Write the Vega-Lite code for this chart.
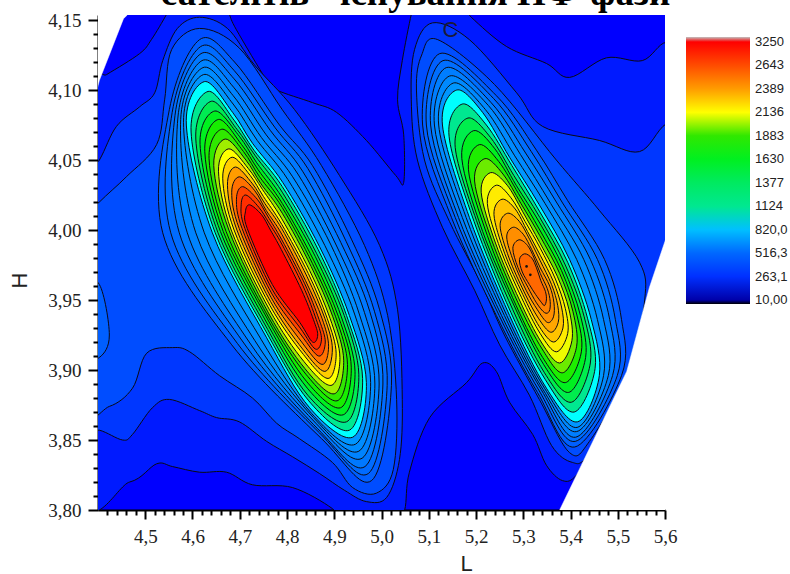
{"$schema":"https://vega.github.io/schema/vega-lite/v6.json","width":567,"height":495,"autosize":"none","padding":{"left":98,"top":15,"right":125,"bottom":64},
"background":"white","view":{"fill":"#0000ff","stroke":null},
"title":{"text":"сателітів - існування ПФ-фази","font":"Liberation Serif","fontSize":37,"fontWeight":"bold","color":"black","anchor":"middle","dx":34,"offset":-2,"frame":"group"},
"config":{"axis":{"grid":false,"domainColor":"black","domainWidth":2,"tickColor":"black","tickWidth":2,"labelFont":"Liberation Serif","labelFontSize":19,"labelColor":"#222","titleFont":"Liberation Sans","titleFontSize":22,"titleFontWeight":"normal","titleColor":"#222","labelOverlap":false,"labelBound":false,"labelFlush":false,"zindex":1,"tickCount":100}},
"layer":[
{"data":{"values":[
{"g":1,"t":0.75,"L":4.361,"H":3.82},{"g":1,"t":0.75,"L":4.467,"H":3.82},{"g":1,"t":0.75,"L":4.524,"H":3.833},{"g":1,"t":0.75,"L":4.558,"H":3.831},{"g":1,"t":0.75,"L":4.615,"H":3.827},{"g":1,"t":0.75,"L":4.672,"H":3.827},{"g":1,"t":0.75,"L":4.727,"H":3.818},{"g":1,"t":0.75,"L":4.812,"H":3.816},{"g":1,"t":0.75,"L":4.896,"H":3.801},{"g":1,"t":0.75,"L":4.922,"H":3.789},{"g":1,"t":0.75,"L":5.027,"H":3.789},{"g":1,"t":0.75,"L":5.049,"H":3.8},{"g":1,"t":0.75,"L":5.059,"H":3.827},{"g":1,"t":0.75,"L":5.102,"H":3.866},{"g":1,"t":0.75,"L":5.18,"H":3.891},{"g":1,"t":0.75,"L":5.214,"H":3.905},{"g":1,"t":0.75,"L":5.243,"H":3.899},{"g":1,"t":0.75,"L":5.271,"H":3.877},{"g":1,"t":0.75,"L":5.32,"H":3.854},{"g":1,"t":0.75,"L":5.349,"H":3.832},{"g":1,"t":0.75,"L":5.383,"H":3.821},{"g":1,"t":0.75,"L":5.413,"H":3.825},{"g":1,"t":0.75,"L":5.461,"H":3.85},{"g":1,"t":0.75,"L":5.652,"H":3.993},{"g":1,"t":0.75,"L":5.652,"H":4.121},{"g":1,"t":0.75,"L":5.603,"H":4.134},{"g":1,"t":0.75,"L":5.552,"H":4.121},{"g":1,"t":0.75,"L":5.476,"H":4.123},{"g":1,"t":0.75,"L":5.398,"H":4.109},{"g":1,"t":0.75,"L":5.349,"H":4.119},{"g":1,"t":0.75,"L":5.265,"H":4.131},{"g":1,"t":0.75,"L":5.19,"H":4.152},{"g":1,"t":0.75,"L":5.169,"H":4.161},{"g":1,"t":0.75,"L":5.07,"H":4.161},{"g":1,"t":0.75,"L":5.063,"H":4.154},{"g":1,"t":0.75,"L":5.044,"H":4.121},{"g":1,"t":0.75,"L":5.034,"H":4.093},{"g":1,"t":0.75,"L":5.047,"H":4.068},{"g":1,"t":0.75,"L":5.047,"H":4.034},{"g":1,"t":0.75,"L":5.03,"H":4.039},{"g":1,"t":0.75,"L":4.968,"H":4.064},{"g":1,"t":0.75,"L":4.905,"H":4.084},{"g":1,"t":0.75,"L":4.854,"H":4.091},{"g":1,"t":0.75,"L":4.778,"H":4.1},{"g":1,"t":0.75,"L":4.757,"H":4.107},{"g":1,"t":0.75,"L":4.693,"H":4.143},{"g":1,"t":0.75,"L":4.678,"H":4.154},{"g":1,"t":0.75,"L":4.668,"H":4.162},{"g":1,"t":0.75,"L":4.556,"H":4.162},{"g":1,"t":0.75,"L":4.545,"H":4.154},{"g":1,"t":0.75,"L":4.513,"H":4.136},{"g":1,"t":0.75,"L":4.488,"H":4.126},{"g":1,"t":0.75,"L":4.418,"H":4.111},{"g":1,"t":0.75,"L":4.361,"H":4.1},
{"g":2,"t":1.1,"L":4.361,"H":3.857},{"g":2,"t":1.1,"L":4.403,"H":3.857},{"g":2,"t":1.1,"L":4.452,"H":3.85},{"g":2,"t":1.1,"L":4.473,"H":3.854},{"g":2,"t":1.1,"L":4.515,"H":3.873},{"g":2,"t":1.1,"L":4.551,"H":3.879},{"g":2,"t":1.1,"L":4.615,"H":3.871},{"g":2,"t":1.1,"L":4.651,"H":3.866},{"g":2,"t":1.1,"L":4.699,"H":3.863},{"g":2,"t":1.1,"L":4.757,"H":3.849},{"g":2,"t":1.1,"L":4.812,"H":3.838},{"g":2,"t":1.1,"L":4.869,"H":3.826},{"g":2,"t":1.1,"L":4.922,"H":3.814},{"g":2,"t":1.1,"L":4.968,"H":3.806},{"g":2,"t":1.1,"L":5.011,"H":3.809},{"g":2,"t":1.1,"L":5.038,"H":3.836},{"g":2,"t":1.1,"L":5.044,"H":3.879},{"g":2,"t":1.1,"L":5.034,"H":3.943},{"g":2,"t":1.1,"L":4.996,"H":3.989},{"g":2,"t":1.1,"L":4.911,"H":4.039},{"g":2,"t":1.1,"L":4.816,"H":4.086},{"g":2,"t":1.1,"L":4.731,"H":4.118},{"g":2,"t":1.1,"L":4.674,"H":4.144},{"g":2,"t":1.1,"L":4.615,"H":4.152},{"g":2,"t":1.1,"L":4.568,"H":4.144},{"g":2,"t":1.1,"L":4.537,"H":4.121},{"g":2,"t":1.1,"L":4.52,"H":4.098},{"g":2,"t":1.1,"L":4.488,"H":4.088},{"g":2,"t":1.1,"L":4.439,"H":4.074},{"g":2,"t":1.1,"L":4.403,"H":4.05},{"g":2,"t":1.1,"L":4.361,"H":4.029},
{"g":3,"t":1.45,"L":4.361,"H":3.874},{"g":3,"t":1.45,"L":4.424,"H":3.874},{"g":3,"t":1.45,"L":4.473,"H":3.887},{"g":3,"t":1.45,"L":4.503,"H":3.912},{"g":3,"t":1.45,"L":4.558,"H":3.916},{"g":3,"t":1.45,"L":4.594,"H":3.913},{"g":3,"t":1.45,"L":4.657,"H":3.896},{"g":3,"t":1.45,"L":4.727,"H":3.88},{"g":3,"t":1.45,"L":4.778,"H":3.862},{"g":3,"t":1.45,"L":4.826,"H":3.851},{"g":3,"t":1.45,"L":4.896,"H":3.834},{"g":3,"t":1.45,"L":4.939,"H":3.816},{"g":3,"t":1.45,"L":4.989,"H":3.812},{"g":3,"t":1.45,"L":5.025,"H":3.829},{"g":3,"t":1.45,"L":5.032,"H":3.879},{"g":3,"t":1.45,"L":5.013,"H":3.939},{"g":3,"t":1.45,"L":4.964,"H":3.989},{"g":3,"t":1.45,"L":4.873,"H":4.046},{"g":3,"t":1.45,"L":4.79,"H":4.086},{"g":3,"t":1.45,"L":4.699,"H":4.13},{"g":3,"t":1.45,"L":4.615,"H":4.144},{"g":3,"t":1.45,"L":4.556,"H":4.129},{"g":3,"t":1.45,"L":4.541,"H":4.093},{"g":3,"t":1.45,"L":4.524,"H":4.061},{"g":3,"t":1.45,"L":4.46,"H":4.038},{"g":3,"t":1.45,"L":4.403,"H":4.02},{"g":3,"t":1.45,"L":4.361,"H":4.004},
{"g":4,"t":1.8,"L":4.361,"H":3.961},{"g":4,"t":1.8,"L":4.403,"H":3.961},{"g":4,"t":1.8,"L":4.424,"H":3.925},{"g":4,"t":1.8,"L":4.403,"H":3.909},{"g":4,"t":1.8,"L":4.361,"H":3.909},
{"g":5,"t":1.1,"L":5.108,"H":4.148},{"g":5,"t":1.1,"L":5.186,"H":4.136},{"g":5,"t":1.1,"L":5.286,"H":4.098},{"g":5,"t":1.1,"L":5.341,"H":4.074},{"g":5,"t":1.1,"L":5.461,"H":4.064},{"g":5,"t":1.1,"L":5.546,"H":4.056},{"g":5,"t":1.1,"L":5.603,"H":4.076},{"g":5,"t":1.1,"L":5.673,"H":4.082},{"g":5,"t":1.1,"L":5.673,"H":3.95},{"g":5,"t":1.1,"L":5.546,"H":3.879},{"g":5,"t":1.1,"L":5.44,"H":3.839},{"g":5,"t":1.1,"L":5.404,"H":3.834},{"g":5,"t":1.1,"L":5.36,"H":3.846},{"g":5,"t":1.1,"L":5.313,"H":3.882},{"g":5,"t":1.1,"L":5.25,"H":3.918},{"g":5,"t":1.1,"L":5.197,"H":3.957},{"g":5,"t":1.1,"L":5.129,"H":4.002},{"g":5,"t":1.1,"L":5.076,"H":4.05},{"g":5,"t":1.1,"L":5.063,"H":4.093},{"g":5,"t":1.1,"L":5.07,"H":4.129},
{"g":6,"t":1.45,"L":5.119,"H":4.136},{"g":6,"t":1.45,"L":5.239,"H":4.104},{"g":6,"t":1.45,"L":5.37,"H":4.05},{"g":6,"t":1.45,"L":5.461,"H":4.014},{"g":6,"t":1.45,"L":5.546,"H":3.977},{"g":6,"t":1.45,"L":5.557,"H":3.95},{"g":6,"t":1.45,"L":5.525,"H":3.9},{"g":6,"t":1.45,"L":5.44,"H":3.849},{"g":6,"t":1.45,"L":5.398,"H":3.841},{"g":6,"t":1.45,"L":5.334,"H":3.879},{"g":6,"t":1.45,"L":5.26,"H":3.925},{"g":6,"t":1.45,"L":5.212,"H":3.961},{"g":6,"t":1.45,"L":5.144,"H":4.006},{"g":6,"t":1.45,"L":5.091,"H":4.05},{"g":6,"t":1.45,"L":5.074,"H":4.1},{"g":6,"t":1.45,"L":5.085,"H":4.125},
{"g":10,"t":1.8,"L":4.615,"H":4.136},{"g":10,"t":1.8,"L":4.689,"H":4.12},{"g":10,"t":1.8,"L":4.784,"H":4.075},{"g":10,"t":1.8,"L":4.854,"H":4.046},{"g":10,"t":1.8,"L":4.937,"H":3.993},{"g":10,"t":1.8,"L":4.996,"H":3.943},{"g":10,"t":1.8,"L":5.021,"H":3.889},{"g":10,"t":1.8,"L":4.979,"H":3.821},{"g":10,"t":1.8,"L":4.873,"H":3.851},{"g":10,"t":1.8,"L":4.683,"H":3.918},{"g":10,"t":1.8,"L":4.537,"H":3.998},{"g":10,"t":1.8,"L":4.551,"H":4.086},
{"g":11,"t":2.05,"L":4.617,"H":4.131},{"g":11,"t":2.05,"L":4.688,"H":4.114},{"g":11,"t":2.05,"L":4.775,"H":4.073},{"g":11,"t":2.05,"L":4.844,"H":4.044},{"g":11,"t":2.05,"L":4.925,"H":3.992},{"g":11,"t":2.05,"L":4.985,"H":3.942},{"g":11,"t":2.05,"L":5.012,"H":3.889},{"g":11,"t":2.05,"L":4.972,"H":3.826},{"g":11,"t":2.05,"L":4.869,"H":3.855},{"g":11,"t":2.05,"L":4.695,"H":3.919},{"g":11,"t":2.05,"L":4.554,"H":3.998},{"g":11,"t":2.05,"L":4.557,"H":4.084},
{"g":12,"t":2.3,"L":4.618,"H":4.126},{"g":12,"t":2.3,"L":4.688,"H":4.108},{"g":12,"t":2.3,"L":4.765,"H":4.071},{"g":12,"t":2.3,"L":4.833,"H":4.042},{"g":12,"t":2.3,"L":4.914,"H":3.991},{"g":12,"t":2.3,"L":4.975,"H":3.942},{"g":12,"t":2.3,"L":5.003,"H":3.89},{"g":12,"t":2.3,"L":4.965,"H":3.831},{"g":12,"t":2.3,"L":4.865,"H":3.858},{"g":12,"t":2.3,"L":4.707,"H":3.92},{"g":12,"t":2.3,"L":4.572,"H":3.998},{"g":12,"t":2.3,"L":4.563,"H":4.082},
{"g":13,"t":2.5,"L":4.62,"H":4.121},{"g":13,"t":2.5,"L":4.687,"H":4.102},{"g":13,"t":2.5,"L":4.756,"H":4.068},{"g":13,"t":2.5,"L":4.823,"H":4.04},{"g":13,"t":2.5,"L":4.903,"H":3.99},{"g":13,"t":2.5,"L":4.964,"H":3.941},{"g":13,"t":2.5,"L":4.995,"H":3.89},{"g":13,"t":2.5,"L":4.959,"H":3.837},{"g":13,"t":2.5,"L":4.861,"H":3.862},{"g":13,"t":2.5,"L":4.72,"H":3.92},{"g":13,"t":2.5,"L":4.589,"H":3.998},{"g":13,"t":2.5,"L":4.569,"H":4.08},
{"g":14,"t":2.7,"L":4.622,"H":4.116},{"g":14,"t":2.7,"L":4.686,"H":4.096},{"g":14,"t":2.7,"L":4.746,"H":4.066},{"g":14,"t":2.7,"L":4.812,"H":4.038},{"g":14,"t":2.7,"L":4.892,"H":3.99},{"g":14,"t":2.7,"L":4.953,"H":3.94},{"g":14,"t":2.7,"L":4.986,"H":3.89},{"g":14,"t":2.7,"L":4.952,"H":3.842},{"g":14,"t":2.7,"L":4.856,"H":3.866},{"g":14,"t":2.7,"L":4.732,"H":3.921},{"g":14,"t":2.7,"L":4.607,"H":3.998},{"g":14,"t":2.7,"L":4.575,"H":4.079},
{"g":15,"t":2.9,"L":4.623,"H":4.111},{"g":15,"t":2.9,"L":4.686,"H":4.09},{"g":15,"t":2.9,"L":4.737,"H":4.064},{"g":15,"t":2.9,"L":4.802,"H":4.036},{"g":15,"t":2.9,"L":4.88,"H":3.989},{"g":15,"t":2.9,"L":4.943,"H":3.94},{"g":15,"t":2.9,"L":4.977,"H":3.891},{"g":15,"t":2.9,"L":4.945,"H":3.847},{"g":15,"t":2.9,"L":4.852,"H":3.869},{"g":15,"t":2.9,"L":4.745,"H":3.922},{"g":15,"t":2.9,"L":4.625,"H":3.998},{"g":15,"t":2.9,"L":4.581,"H":4.077},
{"g":16,"t":3.1,"L":4.625,"H":4.106},{"g":16,"t":3.1,"L":4.685,"H":4.084},{"g":16,"t":3.1,"L":4.727,"H":4.062},{"g":16,"t":3.1,"L":4.791,"H":4.034},{"g":16,"t":3.1,"L":4.869,"H":3.988},{"g":16,"t":3.1,"L":4.932,"H":3.939},{"g":16,"t":3.1,"L":4.968,"H":3.891},{"g":16,"t":3.1,"L":4.939,"H":3.852},{"g":16,"t":3.1,"L":4.848,"H":3.873},{"g":16,"t":3.1,"L":4.757,"H":3.923},{"g":16,"t":3.1,"L":4.642,"H":3.998},{"g":16,"t":3.1,"L":4.587,"H":4.075},
{"g":21,"t":4,"L":4.633,"H":4.099},{"g":21,"t":4,"L":4.689,"H":4.078},{"g":21,"t":4,"L":4.73,"H":4.057},{"g":21,"t":4,"L":4.79,"H":4.031},{"g":21,"t":4,"L":4.866,"H":3.986},{"g":21,"t":4,"L":4.926,"H":3.939},{"g":21,"t":4,"L":4.96,"H":3.894},{"g":21,"t":4,"L":4.932,"H":3.857},{"g":21,"t":4,"L":4.846,"H":3.878},{"g":21,"t":4,"L":4.758,"H":3.926},{"g":21,"t":4,"L":4.648,"H":3.998},{"g":21,"t":4,"L":4.597,"H":4.07},
{"g":22,"t":5.3,"L":4.64,"H":4.092},{"g":22,"t":5.3,"L":4.694,"H":4.072},{"g":22,"t":5.3,"L":4.733,"H":4.053},{"g":22,"t":5.3,"L":4.79,"H":4.027},{"g":22,"t":5.3,"L":4.863,"H":3.983},{"g":22,"t":5.3,"L":4.921,"H":3.939},{"g":22,"t":5.3,"L":4.952,"H":3.897},{"g":22,"t":5.3,"L":4.926,"H":3.863},{"g":22,"t":5.3,"L":4.844,"H":3.882},{"g":22,"t":5.3,"L":4.759,"H":3.929},{"g":22,"t":5.3,"L":4.654,"H":3.998},{"g":22,"t":5.3,"L":4.607,"H":4.065},
{"g":23,"t":6,"L":4.647,"H":4.085},{"g":23,"t":6,"L":4.699,"H":4.067},{"g":23,"t":6,"L":4.736,"H":4.048},{"g":23,"t":6,"L":4.79,"H":4.023},{"g":23,"t":6,"L":4.86,"H":3.981},{"g":23,"t":6,"L":4.915,"H":3.938},{"g":23,"t":6,"L":4.944,"H":3.899},{"g":23,"t":6,"L":4.919,"H":3.868},{"g":23,"t":6,"L":4.843,"H":3.887},{"g":23,"t":6,"L":4.76,"H":3.932},{"g":23,"t":6,"L":4.659,"H":3.999},{"g":23,"t":6,"L":4.616,"H":4.061},
{"g":24,"t":6.5,"L":4.655,"H":4.079},{"g":24,"t":6.5,"L":4.704,"H":4.061},{"g":24,"t":6.5,"L":4.739,"H":4.043},{"g":24,"t":6.5,"L":4.79,"H":4.019},{"g":24,"t":6.5,"L":4.857,"H":3.978},{"g":24,"t":6.5,"L":4.909,"H":3.938},{"g":24,"t":6.5,"L":4.936,"H":3.902},{"g":24,"t":6.5,"L":4.913,"H":3.873},{"g":24,"t":6.5,"L":4.841,"H":3.892},{"g":24,"t":6.5,"L":4.761,"H":3.935},{"g":24,"t":6.5,"L":4.665,"H":3.999},{"g":24,"t":6.5,"L":4.626,"H":4.056},
{"g":25,"t":7,"L":4.662,"H":4.072},{"g":25,"t":7,"L":4.708,"H":4.056},{"g":25,"t":7,"L":4.742,"H":4.038},{"g":25,"t":7,"L":4.79,"H":4.016},{"g":25,"t":7,"L":4.854,"H":3.976},{"g":25,"t":7,"L":4.903,"H":3.938},{"g":25,"t":7,"L":4.928,"H":3.904},{"g":25,"t":7,"L":4.906,"H":3.878},{"g":25,"t":7,"L":4.84,"H":3.897},{"g":25,"t":7,"L":4.762,"H":3.937},{"g":25,"t":7,"L":4.671,"H":3.999},{"g":25,"t":7,"L":4.635,"H":4.051},
{"g":26,"t":7.5,"L":4.669,"H":4.065},{"g":26,"t":7.5,"L":4.713,"H":4.05},{"g":26,"t":7.5,"L":4.745,"H":4.033},{"g":26,"t":7.5,"L":4.79,"H":4.012},{"g":26,"t":7.5,"L":4.851,"H":3.974},{"g":26,"t":7.5,"L":4.897,"H":3.938},{"g":26,"t":7.5,"L":4.92,"H":3.907},{"g":26,"t":7.5,"L":4.9,"H":3.883},{"g":26,"t":7.5,"L":4.838,"H":3.901},{"g":26,"t":7.5,"L":4.762,"H":3.94},{"g":26,"t":7.5,"L":4.677,"H":4},{"g":26,"t":7.5,"L":4.645,"H":4.046},
{"g":27,"t":8,"L":4.677,"H":4.058},{"g":27,"t":8,"L":4.718,"H":4.044},{"g":27,"t":8,"L":4.748,"H":4.029},{"g":27,"t":8,"L":4.789,"H":4.008},{"g":27,"t":8,"L":4.848,"H":3.971},{"g":27,"t":8,"L":4.891,"H":3.937},{"g":27,"t":8,"L":4.912,"H":3.909},{"g":27,"t":8,"L":4.893,"H":3.889},{"g":27,"t":8,"L":4.836,"H":3.906},{"g":27,"t":8,"L":4.763,"H":3.943},{"g":27,"t":8,"L":4.682,"H":4},{"g":27,"t":8,"L":4.655,"H":4.042},
{"g":28,"t":8.5,"L":4.684,"H":4.052},{"g":28,"t":8.5,"L":4.722,"H":4.039},{"g":28,"t":8.5,"L":4.75,"H":4.024},{"g":28,"t":8.5,"L":4.789,"H":4.004},{"g":28,"t":8.5,"L":4.845,"H":3.969},{"g":28,"t":8.5,"L":4.885,"H":3.937},{"g":28,"t":8.5,"L":4.904,"H":3.912},{"g":28,"t":8.5,"L":4.887,"H":3.894},{"g":28,"t":8.5,"L":4.835,"H":3.911},{"g":28,"t":8.5,"L":4.764,"H":3.946},{"g":28,"t":8.5,"L":4.688,"H":4},{"g":28,"t":8.5,"L":4.664,"H":4.037},
{"g":29,"t":9,"L":4.691,"H":4.045},{"g":29,"t":9,"L":4.727,"H":4.033},{"g":29,"t":9,"L":4.753,"H":4.019},{"g":29,"t":9,"L":4.789,"H":4.001},{"g":29,"t":9,"L":4.842,"H":3.967},{"g":29,"t":9,"L":4.88,"H":3.937},{"g":29,"t":9,"L":4.896,"H":3.915},{"g":29,"t":9,"L":4.88,"H":3.899},{"g":29,"t":9,"L":4.833,"H":3.915},{"g":29,"t":9,"L":4.765,"H":3.949},{"g":29,"t":9,"L":4.694,"H":4},{"g":29,"t":9,"L":4.674,"H":4.032},
{"g":30,"t":9.6,"L":4.699,"H":4.038},{"g":30,"t":9.6,"L":4.732,"H":4.028},{"g":30,"t":9.6,"L":4.756,"H":4.014},{"g":30,"t":9.6,"L":4.789,"H":3.997},{"g":30,"t":9.6,"L":4.839,"H":3.964},{"g":30,"t":9.6,"L":4.874,"H":3.937},{"g":30,"t":9.6,"L":4.888,"H":3.917},{"g":30,"t":9.6,"L":4.874,"H":3.904},{"g":30,"t":9.6,"L":4.831,"H":3.92},{"g":30,"t":9.6,"L":4.766,"H":3.952},{"g":30,"t":9.6,"L":4.699,"H":4.001},{"g":30,"t":9.6,"L":4.683,"H":4.027},
{"g":31,"t":10.2,"L":4.706,"H":4.031},{"g":31,"t":10.2,"L":4.737,"H":4.022},{"g":31,"t":10.2,"L":4.759,"H":4.01},{"g":31,"t":10.2,"L":4.789,"H":3.993},{"g":31,"t":10.2,"L":4.837,"H":3.962},{"g":31,"t":10.2,"L":4.868,"H":3.936},{"g":31,"t":10.2,"L":4.881,"H":3.92},{"g":31,"t":10.2,"L":4.867,"H":3.91},{"g":31,"t":10.2,"L":4.83,"H":3.925},{"g":31,"t":10.2,"L":4.767,"H":3.955},{"g":31,"t":10.2,"L":4.705,"H":4.001},{"g":31,"t":10.2,"L":4.693,"H":4.022},
{"g":32,"t":10.6,"L":4.713,"H":4.025},{"g":32,"t":10.6,"L":4.741,"H":4.016},{"g":32,"t":10.6,"L":4.762,"H":4.005},{"g":32,"t":10.6,"L":4.789,"H":3.99},{"g":32,"t":10.6,"L":4.834,"H":3.96},{"g":32,"t":10.6,"L":4.862,"H":3.936},{"g":32,"t":10.6,"L":4.873,"H":3.922},{"g":32,"t":10.6,"L":4.86,"H":3.915},{"g":32,"t":10.6,"L":4.828,"H":3.93},{"g":32,"t":10.6,"L":4.768,"H":3.958},{"g":32,"t":10.6,"L":4.711,"H":4.001},{"g":32,"t":10.6,"L":4.703,"H":4.018},
{"g":33,"t":11,"L":4.721,"H":4.018},{"g":33,"t":11,"L":4.746,"H":4.011},{"g":33,"t":11,"L":4.765,"H":4},{"g":33,"t":11,"L":4.788,"H":3.986},{"g":33,"t":11,"L":4.831,"H":3.957},{"g":33,"t":11,"L":4.856,"H":3.936},{"g":33,"t":11,"L":4.865,"H":3.925},{"g":33,"t":11,"L":4.854,"H":3.92},{"g":33,"t":11,"L":4.827,"H":3.934},{"g":33,"t":11,"L":4.769,"H":3.961},{"g":33,"t":11,"L":4.716,"H":4.001},{"g":33,"t":11,"L":4.712,"H":4.013},
{"g":40,"t":1.8,"L":5.123,"H":4.126},{"g":40,"t":1.8,"L":5.243,"H":4.096},{"g":40,"t":1.8,"L":5.328,"H":4.057},{"g":40,"t":1.8,"L":5.394,"H":4.021},{"g":40,"t":1.8,"L":5.472,"H":3.979},{"g":40,"t":1.8,"L":5.508,"H":3.936},{"g":40,"t":1.8,"L":5.508,"H":3.896},{"g":40,"t":1.8,"L":5.409,"H":3.845},{"g":40,"t":1.8,"L":5.33,"H":3.884},{"g":40,"t":1.8,"L":5.243,"H":3.939},{"g":40,"t":1.8,"L":5.148,"H":4.009},{"g":40,"t":1.8,"L":5.087,"H":4.075},
{"g":41,"t":2.1,"L":5.13,"H":4.121},{"g":41,"t":2.1,"L":5.237,"H":4.094},{"g":41,"t":2.1,"L":5.317,"H":4.056},{"g":41,"t":2.1,"L":5.382,"H":4.02},{"g":41,"t":2.1,"L":5.457,"H":3.979},{"g":41,"t":2.1,"L":5.495,"H":3.936},{"g":41,"t":2.1,"L":5.499,"H":3.896},{"g":41,"t":2.1,"L":5.41,"H":3.849},{"g":41,"t":2.1,"L":5.334,"H":3.885},{"g":41,"t":2.1,"L":5.249,"H":3.939},{"g":41,"t":2.1,"L":5.156,"H":4.009},{"g":41,"t":2.1,"L":5.095,"H":4.075},
{"g":42,"t":2.4,"L":5.137,"H":4.116},{"g":42,"t":2.4,"L":5.232,"H":4.091},{"g":42,"t":2.4,"L":5.305,"H":4.055},{"g":42,"t":2.4,"L":5.37,"H":4.02},{"g":42,"t":2.4,"L":5.442,"H":3.979},{"g":42,"t":2.4,"L":5.483,"H":3.936},{"g":42,"t":2.4,"L":5.489,"H":3.896},{"g":42,"t":2.4,"L":5.411,"H":3.852},{"g":42,"t":2.4,"L":5.338,"H":3.886},{"g":42,"t":2.4,"L":5.254,"H":3.939},{"g":42,"t":2.4,"L":5.163,"H":4.009},{"g":42,"t":2.4,"L":5.104,"H":4.075},
{"g":43,"t":2.65,"L":5.144,"H":4.11},{"g":43,"t":2.65,"L":5.226,"H":4.089},{"g":43,"t":2.65,"L":5.294,"H":4.054},{"g":43,"t":2.65,"L":5.358,"H":4.019},{"g":43,"t":2.65,"L":5.428,"H":3.979},{"g":43,"t":2.65,"L":5.47,"H":3.936},{"g":43,"t":2.65,"L":5.48,"H":3.896},{"g":43,"t":2.65,"L":5.413,"H":3.856},{"g":43,"t":2.65,"L":5.342,"H":3.886},{"g":43,"t":2.65,"L":5.26,"H":3.939},{"g":43,"t":2.65,"L":5.171,"H":4.009},{"g":43,"t":2.65,"L":5.112,"H":4.075},
{"g":44,"t":2.9,"L":5.152,"H":4.105},{"g":44,"t":2.9,"L":5.22,"H":4.086},{"g":44,"t":2.9,"L":5.282,"H":4.053},{"g":44,"t":2.9,"L":5.346,"H":4.019},{"g":44,"t":2.9,"L":5.413,"H":3.979},{"g":44,"t":2.9,"L":5.457,"H":3.936},{"g":44,"t":2.9,"L":5.47,"H":3.896},{"g":44,"t":2.9,"L":5.414,"H":3.859},{"g":44,"t":2.9,"L":5.345,"H":3.887},{"g":44,"t":2.9,"L":5.265,"H":3.939},{"g":44,"t":2.9,"L":5.179,"H":4.009},{"g":44,"t":2.9,"L":5.121,"H":4.075},
{"g":45,"t":3.1,"L":5.159,"H":4.1},{"g":45,"t":3.1,"L":5.214,"H":4.084},{"g":45,"t":3.1,"L":5.271,"H":4.052},{"g":45,"t":3.1,"L":5.334,"H":4.018},{"g":45,"t":3.1,"L":5.398,"H":3.979},{"g":45,"t":3.1,"L":5.444,"H":3.936},{"g":45,"t":3.1,"L":5.461,"H":3.896},{"g":45,"t":3.1,"L":5.415,"H":3.863},{"g":45,"t":3.1,"L":5.349,"H":3.887},{"g":45,"t":3.1,"L":5.271,"H":3.939},{"g":45,"t":3.1,"L":5.186,"H":4.009},{"g":45,"t":3.1,"L":5.129,"H":4.075},
{"g":51,"t":4,"L":5.171,"H":4.09},{"g":51,"t":4,"L":5.222,"H":4.075},{"g":51,"t":4,"L":5.276,"H":4.046},{"g":51,"t":4,"L":5.335,"H":4.013},{"g":51,"t":4,"L":5.394,"H":3.977},{"g":51,"t":4,"L":5.436,"H":3.937},{"g":51,"t":4,"L":5.452,"H":3.901},{"g":51,"t":4,"L":5.408,"H":3.87},{"g":51,"t":4,"L":5.347,"H":3.893},{"g":51,"t":4,"L":5.274,"H":3.941},{"g":51,"t":4,"L":5.196,"H":4.006},{"g":51,"t":4,"L":5.143,"H":4.067},
{"g":52,"t":5.4,"L":5.183,"H":4.08},{"g":52,"t":5.4,"L":5.231,"H":4.066},{"g":52,"t":5.4,"L":5.28,"H":4.039},{"g":52,"t":5.4,"L":5.335,"H":4.009},{"g":52,"t":5.4,"L":5.389,"H":3.975},{"g":52,"t":5.4,"L":5.429,"H":3.938},{"g":52,"t":5.4,"L":5.442,"H":3.905},{"g":52,"t":5.4,"L":5.402,"H":3.877},{"g":52,"t":5.4,"L":5.345,"H":3.898},{"g":52,"t":5.4,"L":5.278,"H":3.943},{"g":52,"t":5.4,"L":5.205,"H":4.003},{"g":52,"t":5.4,"L":5.156,"H":4.059},
{"g":53,"t":6,"L":5.195,"H":4.071},{"g":53,"t":6,"L":5.24,"H":4.058},{"g":53,"t":6,"L":5.285,"H":4.032},{"g":53,"t":6,"L":5.335,"H":4.005},{"g":53,"t":6,"L":5.385,"H":3.973},{"g":53,"t":6,"L":5.421,"H":3.939},{"g":53,"t":6,"L":5.432,"H":3.909},{"g":53,"t":6,"L":5.396,"H":3.884},{"g":53,"t":6,"L":5.343,"H":3.904},{"g":53,"t":6,"L":5.282,"H":3.945},{"g":53,"t":6,"L":5.214,"H":3.999},{"g":53,"t":6,"L":5.17,"H":4.051},
{"g":54,"t":6.6,"L":5.207,"H":4.061},{"g":54,"t":6.6,"L":5.248,"H":4.049},{"g":54,"t":6.6,"L":5.29,"H":4.026},{"g":54,"t":6.6,"L":5.335,"H":4},{"g":54,"t":6.6,"L":5.381,"H":3.971},{"g":54,"t":6.6,"L":5.413,"H":3.94},{"g":54,"t":6.6,"L":5.423,"H":3.913},{"g":54,"t":6.6,"L":5.389,"H":3.891},{"g":54,"t":6.6,"L":5.341,"H":3.909},{"g":54,"t":6.6,"L":5.285,"H":3.946},{"g":54,"t":6.6,"L":5.224,"H":3.996},{"g":54,"t":6.6,"L":5.184,"H":4.043},
{"g":55,"t":7.2,"L":5.219,"H":4.051},{"g":55,"t":7.2,"L":5.257,"H":4.04},{"g":55,"t":7.2,"L":5.295,"H":4.019},{"g":55,"t":7.2,"L":5.335,"H":3.996},{"g":55,"t":7.2,"L":5.377,"H":3.969},{"g":55,"t":7.2,"L":5.405,"H":3.942},{"g":55,"t":7.2,"L":5.413,"H":3.917},{"g":55,"t":7.2,"L":5.383,"H":3.898},{"g":55,"t":7.2,"L":5.34,"H":3.915},{"g":55,"t":7.2,"L":5.289,"H":3.948},{"g":55,"t":7.2,"L":5.233,"H":3.993},{"g":55,"t":7.2,"L":5.197,"H":4.035},
{"g":56,"t":7.9,"L":5.231,"H":4.041},{"g":56,"t":7.9,"L":5.266,"H":4.032},{"g":56,"t":7.9,"L":5.299,"H":4.013},{"g":56,"t":7.9,"L":5.335,"H":3.991},{"g":56,"t":7.9,"L":5.372,"H":3.967},{"g":56,"t":7.9,"L":5.397,"H":3.943},{"g":56,"t":7.9,"L":5.403,"H":3.921},{"g":56,"t":7.9,"L":5.377,"H":3.905},{"g":56,"t":7.9,"L":5.338,"H":3.92},{"g":56,"t":7.9,"L":5.292,"H":3.95},{"g":56,"t":7.9,"L":5.242,"H":3.99},{"g":56,"t":7.9,"L":5.211,"H":4.027},
{"g":57,"t":8.2,"L":5.243,"H":4.032},{"g":57,"t":8.2,"L":5.274,"H":4.023},{"g":57,"t":8.2,"L":5.304,"H":4.006},{"g":57,"t":8.2,"L":5.336,"H":3.987},{"g":57,"t":8.2,"L":5.368,"H":3.965},{"g":57,"t":8.2,"L":5.389,"H":3.944},{"g":57,"t":8.2,"L":5.394,"H":3.926},{"g":57,"t":8.2,"L":5.37,"H":3.913},{"g":57,"t":8.2,"L":5.336,"H":3.926},{"g":57,"t":8.2,"L":5.296,"H":3.952},{"g":57,"t":8.2,"L":5.252,"H":3.986},{"g":57,"t":8.2,"L":5.224,"H":4.019},
{"g":58,"t":8.6,"L":5.255,"H":4.022},{"g":58,"t":8.6,"L":5.283,"H":4.015},{"g":58,"t":8.6,"L":5.309,"H":3.999},{"g":58,"t":8.6,"L":5.336,"H":3.982},{"g":58,"t":8.6,"L":5.364,"H":3.963},{"g":58,"t":8.6,"L":5.381,"H":3.945},{"g":58,"t":8.6,"L":5.384,"H":3.93},{"g":58,"t":8.6,"L":5.364,"H":3.92},{"g":58,"t":8.6,"L":5.334,"H":3.931},{"g":58,"t":8.6,"L":5.299,"H":3.954},{"g":58,"t":8.6,"L":5.261,"H":3.983},{"g":58,"t":8.6,"L":5.238,"H":4.011},
{"g":59,"t":8.9,"L":5.267,"H":4.012},{"g":59,"t":8.9,"L":5.292,"H":4.006},{"g":59,"t":8.9,"L":5.314,"H":3.993},{"g":59,"t":8.9,"L":5.336,"H":3.978},{"g":59,"t":8.9,"L":5.36,"H":3.961},{"g":59,"t":8.9,"L":5.373,"H":3.946},{"g":59,"t":8.9,"L":5.374,"H":3.934},{"g":59,"t":8.9,"L":5.358,"H":3.927},{"g":59,"t":8.9,"L":5.332,"H":3.937},{"g":59,"t":8.9,"L":5.303,"H":3.955},{"g":59,"t":8.9,"L":5.27,"H":3.98},{"g":59,"t":8.9,"L":5.251,"H":4.003},
{"g":60,"t":9.2,"L":5.279,"H":4.002},{"g":60,"t":9.2,"L":5.3,"H":3.997},{"g":60,"t":9.2,"L":5.318,"H":3.986},{"g":60,"t":9.2,"L":5.336,"H":3.973},{"g":60,"t":9.2,"L":5.356,"H":3.96},{"g":60,"t":9.2,"L":5.365,"H":3.948},{"g":60,"t":9.2,"L":5.364,"H":3.938},{"g":60,"t":9.2,"L":5.351,"H":3.934},{"g":60,"t":9.2,"L":5.33,"H":3.943},{"g":60,"t":9.2,"L":5.306,"H":3.957},{"g":60,"t":9.2,"L":5.28,"H":3.977},{"g":60,"t":9.2,"L":5.265,"H":3.995},
{"g":61,"t":9.4,"L":5.291,"H":3.993},{"g":61,"t":9.4,"L":5.309,"H":3.989},{"g":61,"t":9.4,"L":5.323,"H":3.98},{"g":61,"t":9.4,"L":5.336,"H":3.969},{"g":61,"t":9.4,"L":5.351,"H":3.958},{"g":61,"t":9.4,"L":5.357,"H":3.949},{"g":61,"t":9.4,"L":5.355,"H":3.942},{"g":61,"t":9.4,"L":5.345,"H":3.941},{"g":61,"t":9.4,"L":5.328,"H":3.948},{"g":61,"t":9.4,"L":5.31,"H":3.959},{"g":61,"t":9.4,"L":5.289,"H":3.973},{"g":61,"t":9.4,"L":5.278,"H":3.987},
{"g":62,"t":9.7,"L":5.303,"H":3.983},{"g":62,"t":9.7,"L":5.318,"H":3.98},{"g":62,"t":9.7,"L":5.328,"H":3.973},{"g":62,"t":9.7,"L":5.337,"H":3.964},{"g":62,"t":9.7,"L":5.347,"H":3.956},{"g":62,"t":9.7,"L":5.349,"H":3.95},{"g":62,"t":9.7,"L":5.345,"H":3.946},{"g":62,"t":9.7,"L":5.339,"H":3.948},{"g":62,"t":9.7,"L":5.326,"H":3.954},{"g":62,"t":9.7,"L":5.313,"H":3.961},{"g":62,"t":9.7,"L":5.298,"H":3.97},{"g":62,"t":9.7,"L":5.292,"H":3.979}
]},
"transform":[{"window":[{"op":"row_number","as":"o"}]}],
"mark":{"type":"line","interpolate":"cardinal-closed","stroke":"#0a0a14","strokeWidth":1,"clip":true},
"encoding":{
"x":{"field":"L","type":"quantitative","scale":{"domain":[4.4,5.6],"nice":false,"zero":false},"title":"L","axis":{"values":[4.42,4.44,4.46,4.48,4.5,4.52,4.54,4.56,4.58,4.6,4.62,4.64,4.66,4.68,4.7,4.72,4.74,4.76,4.78,4.8,4.82,4.84,4.86,4.88,4.9,4.92,4.94,4.96,4.98,5,5.02,5.04,5.06,5.08,5.1,5.12,5.14,5.16,5.18,5.2,5.22,5.24,5.26,5.28,5.3,5.32,5.34,5.36,5.38,5.4,5.42,5.44,5.46,5.48,5.5,5.52,5.54,5.56,5.58,5.6],"labelExpr":"abs(datum.value*10-round(datum.value*10))<0.001 ? replace(format(datum.value,'.1f'),'.',',') : ''","tickSize":{"condition":{"test":"abs(datum.value*10-round(datum.value*10))<0.001","value":9},"value":5},"labelPadding":8,"titlePadding":7,"titleX":368}},
"y":{"field":"H","type":"quantitative","scale":{"domain":[3.8,4.1536],"nice":false,"zero":false},"title":"H","axis":{"values":[3.8,3.81,3.82,3.83,3.84,3.85,3.86,3.87,3.88,3.89,3.9,3.91,3.92,3.93,3.94,3.95,3.96,3.97,3.98,3.99,4,4.01,4.02,4.03,4.04,4.05,4.06,4.07,4.08,4.09,4.1,4.11,4.12,4.13,4.14,4.15],"labelExpr":"abs(datum.value*20-round(datum.value*20))<0.001 ? replace(format(datum.value,'.2f'),'.',',') : ''","tickSize":{"condition":{"test":"abs(datum.value*20-round(datum.value*20))<0.001","value":10},"value":5},"labelPadding":7,"titlePadding":16,"titleY":265}},
"detail":{"field":"g"},
"order":{"field":"o","type":"quantitative"},
"fill":{"field":"t","type":"quantitative","scale":{"domain":[-0.17,0,0.03,0.6,1,2,2.95,3,3.1,3.3,4,5,6,6.3,7,7.5,8,9,10,11,11.01,11.21],"range":["#000000","#000000","#0000ff","#0000ff","#0030ff","#0068ff","#0098ff","#00c0ff","#00ffff","#00f8e0","#00e890","#00ea60","#00f020","#00f000","#30e800","#a0ee00","#ffff00","#ff9c00","#ff4c00","#ff0000","#c0c0c0","#c0c0c0"],"nice":false,"zero":false},"legend":{"type":"gradient","orient":"none","legendX":588,"legendY":22,"direction":"vertical","gradientLength":267,"gradientThickness":64,"title":null,"values":[0,1,2,3,4,5,6,7,8,9,10,11],"labelExpr":"['10,00','263,1','516,3','820,0','1124','1377','1630','1883','2136','2389','2643','3250'][datum.value]","labelFont":"Liberation Sans","labelFontSize":13,"labelColor":"#222","labelOverlap":false,"labelOffset":5,"gradientStrokeWidth":0}}
}},
{"data":{"values":[
{"g":"a","o":1,"L":5.377,"H":3.8},{"g":"a","o":2,"L":5.423,"H":3.832},{"g":"a","o":3,"L":5.519,"H":3.899},{"g":"a","o":4,"L":5.567,"H":3.959},{"g":"a","o":5,"L":5.601,"H":3.993},{"g":"a","o":6,"L":5.7,"H":3.993},{"g":"a","o":7,"L":5.7,"H":3.7},{"g":"a","o":8,"L":5.377,"H":3.7},
{"g":"b","o":1,"L":4.39,"H":4.09},{"g":"b","o":2,"L":4.403,"H":4.107},{"g":"b","o":3,"L":4.454,"H":4.151},{"g":"b","o":4,"L":4.462,"H":4.1536},{"g":"b","o":5,"L":4.462,"H":4.17},{"g":"b","o":6,"L":4.3,"H":4.17},{"g":"b","o":7,"L":4.3,"H":4.09}
]},
"mark":{"type":"line","interpolate":"linear-closed","fill":"white","stroke":"white","strokeWidth":0.5,"clip":true},
"encoding":{"x":{"field":"L","type":"quantitative"},"y":{"field":"H","type":"quantitative"},"detail":{"field":"g"},"order":{"field":"o","type":"quantitative"}}},
{"data":{"values":[{"L":5.307,"H":3.974},{"L":5.315,"H":3.968}]},
"mark":{"type":"circle","color":"#111","size":7,"opacity":1},
"encoding":{"x":{"field":"L","type":"quantitative"},"y":{"field":"H","type":"quantitative"}}},
{"data":{"values":[{"L":5.146,"H":4.143,"s":"C"}]},
"mark":{"type":"text","font":"Liberation Sans","fontSize":22,"color":"#1a1a3a"},
"encoding":{"x":{"field":"L","type":"quantitative"},"y":{"field":"H","type":"quantitative"},"text":{"field":"s"}}}
]}
